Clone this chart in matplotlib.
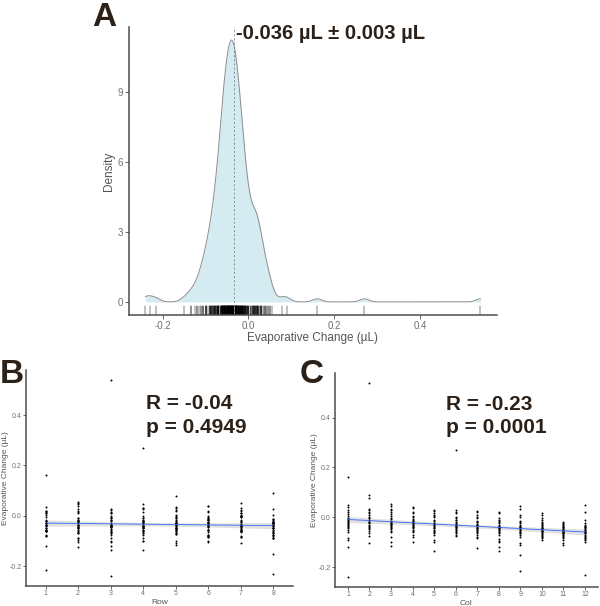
import numpy as np
import matplotlib
matplotlib.use("Agg")
import matplotlib.pyplot as plt
from matplotlib.transforms import blended_transform_factory

plt.rcParams['font.family'] = ['Liberation Sans', 'DejaVu Sans']

# Evaporative change (µL) per well, three plates, 8 rows x 12 columns
plate1 = [
    [0.160, -0.030, -0.018, -0.035, -0.028, -0.040, -0.050, -0.060, -0.215, -0.055, -0.060, -0.075],
    [0.050, -0.065, 0.055, 0.040, -0.045, -0.028, -0.125, -0.035, 0.045, -0.035, -0.048, -0.055],
    [-0.240, 0.540, -0.100, -0.015, -0.135, 0.000, -0.005, -0.010, -0.040, -0.045, -0.070, -0.065],
    [-0.008, -0.020, -0.030, -0.100, 0.030, 0.270, -0.040, -0.135, -0.070, 0.015, -0.020, -0.045],
    [-0.020, 0.078, -0.005, -0.040, -0.010, -0.055, -0.028, -0.050, 0.035, -0.072, -0.065, -0.035],
    [0.040, -0.025, 0.020, -0.030, -0.065, -0.010, -0.085, -0.100, -0.080, -0.030, -0.045, -0.082],
    [-0.002, 0.032, -0.080, 0.000, -0.025, -0.048, -0.033, -0.045, -0.052, -0.005, -0.085, 0.050],
    [-0.025, 0.090, -0.026, -0.080, -0.070, -0.032, -0.042, -0.030, -0.150, -0.075, -0.050, -0.230],
]
plate2 = [
    [-0.120, 0.010, 0.035, 0.005, -0.060, -0.005, 0.020, -0.020, -0.030, -0.020, -0.035, -0.040],
    [-0.015, 0.020, -0.040, -0.022, 0.025, -0.050, -0.018, -0.095, -0.062, -0.068, -0.105, -0.090],
    [0.022, -0.038, -0.022, -0.045, -0.015, -0.035, -0.062, -0.055, -0.105, -0.090, -0.052, -0.010],
    [-0.060, -0.075, 0.045, -0.028, -0.050, -0.045, 0.025, -0.025, -0.035, -0.060, -0.090, -0.100],
    [0.005, -0.045, -0.115, 0.022, -0.100, 0.030, -0.048, 0.020, -0.058, -0.050, -0.030, -0.070],
    [-0.030, 0.015, -0.035, -0.012, 0.000, -0.075, -0.015, -0.038, -0.015, -0.085, -0.075, -0.025],
    [-0.085, -0.005, 0.003, -0.055, 0.018, -0.022, 0.010, -0.015, -0.110, -0.042, -0.038, -0.062],
    [-0.040, -0.048, 0.028, -0.038, -0.030, -0.060, -0.078, -0.088, -0.038, -0.025, -0.068, -0.050],
]
plate3 = [
    [-0.035, -0.055, -0.060, -0.050, 0.010, -0.062, -0.030, 0.015, -0.055, -0.080, -0.080, 0.020],
    [-0.028, -0.010, -0.008, -0.070, -0.090, 0.015, -0.045, -0.048, -0.020, 0.010, -0.025, -0.030],
    [-0.045, 0.028, 0.012, 0.015, -0.038, -0.070, -0.035, -0.120, 0.010, -0.028, -0.040, -0.078],
    [0.030, 0.000, -0.048, -0.008, -0.022, -0.018, -0.070, -0.040, -0.048, -0.040, -0.058, -0.060],
    [-0.052, -0.018, -0.028, -0.060, -0.035, -0.030, 0.000, -0.072, -0.025, -0.010, -0.110, -0.048],
    [-0.012, -0.105, -0.015, 0.038, -0.042, -0.038, -0.055, -0.005, -0.045, -0.055, -0.055, -0.058],
    [0.012, -0.035, -0.042, -0.025, -0.055, 0.022, -0.060, -0.065, 0.000, -0.062, -0.062, -0.040],
    [-0.090, -0.012, -0.055, -0.018, 0.005, -0.012, -0.020, -0.042, -0.065, -0.048, -0.028, -0.088],
]
row_labels = [1, 2, 3, 4, 5, 6, 7, 8]
col_labels = [1, 2, 3, 4, 5, 6, 7, 8, 9, 10, 11, 12]
density_yticks = [0, 3, 6, 9]
density_xticks = [-0.2, 0.0, 0.2, 0.4]
scatter_yticks = [-0.2, 0.0, 0.2, 0.4]
mean_label = "-0.036 µL ± 0.003 µL"
row_stat = "R = -0.04\np = 0.4949"
col_stat = "R = -0.23\np = 0.0001"

plates = np.array([plate1, plate2, plate3])
vals = plates.reshape(-1)
rows = np.tile(np.repeat(row_labels, len(col_labels)), 3)
cols = np.tile(np.tile(col_labels, len(row_labels)), 3)

ink = '#2b2118'
axis_col = '#4d4d4d'
label_col = '#707070'
title_col = '#555555'

fig = plt.figure(figsize=(6.0, 6.06), dpi=100)

# ---------------- Panel A: density ----------------
axA = fig.add_axes([0.2145, 0.4802, 0.614, 0.4752])
n = len(vals)
sd = vals.std(ddof=1)
q75, q25 = np.percentile(vals, [75, 25])
bw = 0.9 * min(sd, (q75 - q25) / 1.34) * n ** -0.2
grid = np.linspace(vals.min(), vals.max(), 512)
dens = np.exp(-0.5 * ((grid[:, None] - vals[None, :]) / bw) ** 2).sum(axis=1) / (n * bw * np.sqrt(2 * np.pi))
axA.fill_between(grid, 0, dens, color='#add8e6', alpha=0.5, lw=0)
axA.plot(grid, dens, color='#8c8c8c', lw=0.7)
mean_v = vals.mean()
axA.axvline(mean_v, color='#808080', lw=0.6, ls=(0, (2.5, 2.5)))
trans = blended_transform_factory(axA.transData, axA.transAxes)
for v in vals:
    axA.plot([v, v], [0, 0.03], color='black', lw=0.35, transform=trans)
rng = vals.max() - vals.min()
axA.set_xlim(vals.min() - 0.05 * rng, vals.max() + 0.05 * rng)
ymax = dens.max()
axA.set_ylim(-0.05 * ymax, ymax * 1.05)
axA.set_xticks(density_xticks)
axA.set_xticklabels(['-0.2', '0.0', '0.2', '0.4'])
axA.set_yticks(density_yticks)
axA.set_xlabel('Evaporative Change (µL)', fontsize=8.5, color=title_col, labelpad=1)
axA.set_ylabel('Density', fontsize=8.5, color=title_col, labelpad=2)
axA.text(mean_v + 0.006, 0.977, mean_label, transform=trans, fontsize=14.6,
         fontweight='bold', color=ink, va='center', ha='left')

# ---------------- Panels B & C: scatter + lm ----------------
def scatter_panel(ax, x, labels, stat, tx, ty, lx):
    ax.scatter(x, vals, s=2.0, color='black', lw=0, zorder=3)
    xs = np.array(x, dtype=float)
    slope, intercept = np.polyfit(xs, vals, 1)
    xx = np.linspace(min(labels), max(labels), 80)
    fit = intercept + slope * xx
    resid = vals - (intercept + slope * xs)
    s = np.sqrt((resid ** 2).sum() / (n - 2))
    sxx = ((xs - xs.mean()) ** 2).sum()
    se = s * np.sqrt(1.0 / n + (xx - xs.mean()) ** 2 / sxx)
    ax.fill_between(xx, fit - 1.968 * se, fit + 1.968 * se, color='#999999', alpha=0.3, lw=0, zorder=2)
    ax.plot(xx, fit, color='#3366ff', lw=0.6, zorder=4)
    ax.set_xlim(min(labels) - 0.6, max(labels) + 0.6)
    r = vals.max() - vals.min()
    ax.set_ylim(vals.min() - 0.05 * r, vals.max() + 0.05 * r)
    ax.set_xticks(labels)
    ax.set_yticks(scatter_yticks)
    ax.set_yticklabels(['-0.2', '0.0', '0.2', '0.4'])
    ax.set_ylabel('Evaporative Change (µL)', fontsize=6, color=title_col)
    ax.yaxis.set_label_coords(lx, 0.5)
    ax.text(tx, ty, stat, transform=ax.transAxes, fontsize=15, fontweight='bold',
            color=ink, va='center', ha='left', linespacing=1.3)

axB = fig.add_axes([0.0433, 0.033, 0.445, 0.3564])
scatter_panel(axB, rows, row_labels, row_stat, 0.448, 0.789, -0.064)
axB.set_xlabel('Row', fontsize=6, color=title_col, labelpad=1)

axC = fig.add_axes([0.5583, 0.0318, 0.4383, 0.3527])
scatter_panel(axC, cols, col_labels, col_stat, 0.421, 0.799, -0.066)
axC.set_xlabel('Col', fontsize=6, color=title_col, labelpad=1)

for ax, fs, tl in [(axA, 7, 3), (axB, 5, 2), (axC, 5, 2)]:
    for sp in ['top', 'right']:
        ax.spines[sp].set_visible(False)
    for sp in ['left', 'bottom']:
        ax.spines[sp].set_color(axis_col)
        ax.spines[sp].set_linewidth(1.1)
    ax.tick_params(labelsize=fs, colors=axis_col, labelcolor=label_col, length=tl, width=0.6, pad=1.2)

# panel letters
fig.text(0.153, 1 - 26 / 606, 'A', fontsize=24, fontweight='bold', color=ink, va='baseline', ha='left')
fig.text(0.0, 1 - 383 / 606, 'B', fontsize=24, fontweight='bold', color=ink, va='baseline', ha='left')
fig.text(0.50, 1 - 383 / 606, 'C', fontsize=24, fontweight='bold', color=ink, va='baseline', ha='left')

fig.savefig('out.png', dpi=100)
